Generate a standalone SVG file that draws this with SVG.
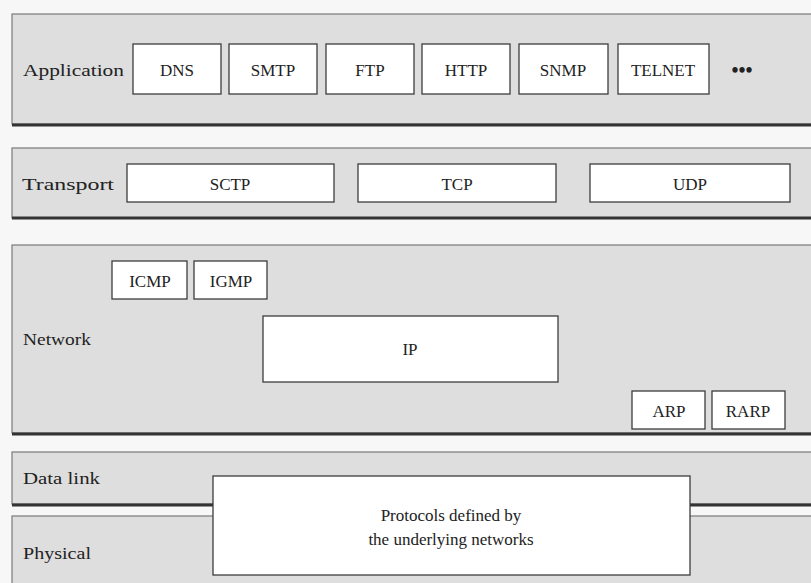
<svg xmlns="http://www.w3.org/2000/svg" width="811" height="583" viewBox="0 0 811 583">
<style>
.bg{fill:#f7f7f7}
.layer{fill:#dedede;stroke:#7a7a7a;stroke-width:1.2}
.shadow{stroke:#333;stroke-width:3;fill:none}
.box{fill:#ffffff;stroke:#3c3c3c;stroke-width:1.3}
text{font-family:"Liberation Serif","Times New Roman",serif;font-size:17px;fill:#222}
.lbl{font-size:16.5px}
.c{text-anchor:middle}
</style>
<rect class="bg" x="0" y="0" width="811" height="583"/>
<g id="application">
<rect class="layer" x="12" y="14" width="806" height="110"/>
<line class="shadow" x1="12" y1="125" x2="811" y2="125"/>
<text class="lbl" x="23" y="76" textLength="101" lengthAdjust="spacingAndGlyphs">Application</text>
</g>
<g id="dns"><rect class="box" x="133" y="44" width="88" height="50"/><text class="c" x="177" y="76">DNS</text></g>
<g id="smtp"><rect class="box" x="229" y="44" width="88" height="50"/><text class="c" x="273" y="76">SMTP</text></g>
<g id="ftp"><rect class="box" x="326" y="44" width="88" height="50"/><text class="c" x="370" y="76">FTP</text></g>
<g id="http"><rect class="box" x="422" y="44" width="88" height="50"/><text class="c" x="466" y="76">HTTP</text></g>
<g id="snmp"><rect class="box" x="519" y="44" width="89" height="50"/><text class="c" x="563" y="76">SNMP</text></g>
<g id="telnet"><rect class="box" x="618" y="44" width="91" height="50"/><text class="c" x="663" y="76">TELNET</text></g>
<g id="more"><text class="c" x="742" y="77" style="font-weight:bold;font-size:20px">•••</text></g>
<g id="transport">
<rect class="layer" x="12" y="148" width="806" height="70"/>
<line class="shadow" x1="12" y1="218" x2="811" y2="218"/>
<text class="lbl" x="22" y="190" textLength="92" lengthAdjust="spacingAndGlyphs">Transport</text>
</g>
<g id="sctp"><rect class="box" x="127" y="164" width="207" height="38"/><text class="c" x="230" y="190">SCTP</text></g>
<g id="tcp"><rect class="box" x="358" y="164" width="198" height="38"/><text class="c" x="457" y="190">TCP</text></g>
<g id="udp"><rect class="box" x="590" y="164" width="200" height="38"/><text class="c" x="690" y="190">UDP</text></g>
<g id="network">
<rect class="layer" x="12" y="245" width="806" height="188"/>
<line class="shadow" x1="12" y1="434" x2="811" y2="434"/>
<text class="lbl" x="23" y="345" textLength="68" lengthAdjust="spacingAndGlyphs">Network</text>
</g>
<g id="icmp"><rect class="box" x="112" y="261" width="75" height="38"/><text class="c" x="150" y="287">ICMP</text></g>
<g id="igmp"><rect class="box" x="194" y="261" width="73" height="38"/><text class="c" x="231" y="287">IGMP</text></g>
<g id="ip"><rect class="box" x="263" y="316" width="295" height="66"/><text class="c" x="410" y="355">IP</text></g>
<g id="arp"><rect class="box" x="632" y="391" width="73" height="38"/><text class="c" x="669" y="417">ARP</text></g>
<g id="rarp"><rect class="box" x="712" y="391" width="73" height="38"/><text class="c" x="748" y="417">RARP</text></g>
<g id="datalink">
<rect class="layer" x="12" y="452" width="806" height="52"/>
<line class="shadow" x1="12" y1="505" x2="811" y2="505"/>
<text class="lbl" x="23" y="484" textLength="77" lengthAdjust="spacingAndGlyphs">Data link</text>
</g>
<g id="physical">
<rect class="layer" x="12" y="516" width="806" height="80"/>
<text class="lbl" x="23" y="559" textLength="68" lengthAdjust="spacingAndGlyphs">Physical</text>
</g>
<g id="underlying">
<rect class="box" x="213" y="476" width="477" height="99"/>
<text class="c" x="451" y="521">Protocols defined by</text>
<text class="c" x="451" y="545">the underlying networks</text>
</g>
<g id="connectors"></g>
</svg>
